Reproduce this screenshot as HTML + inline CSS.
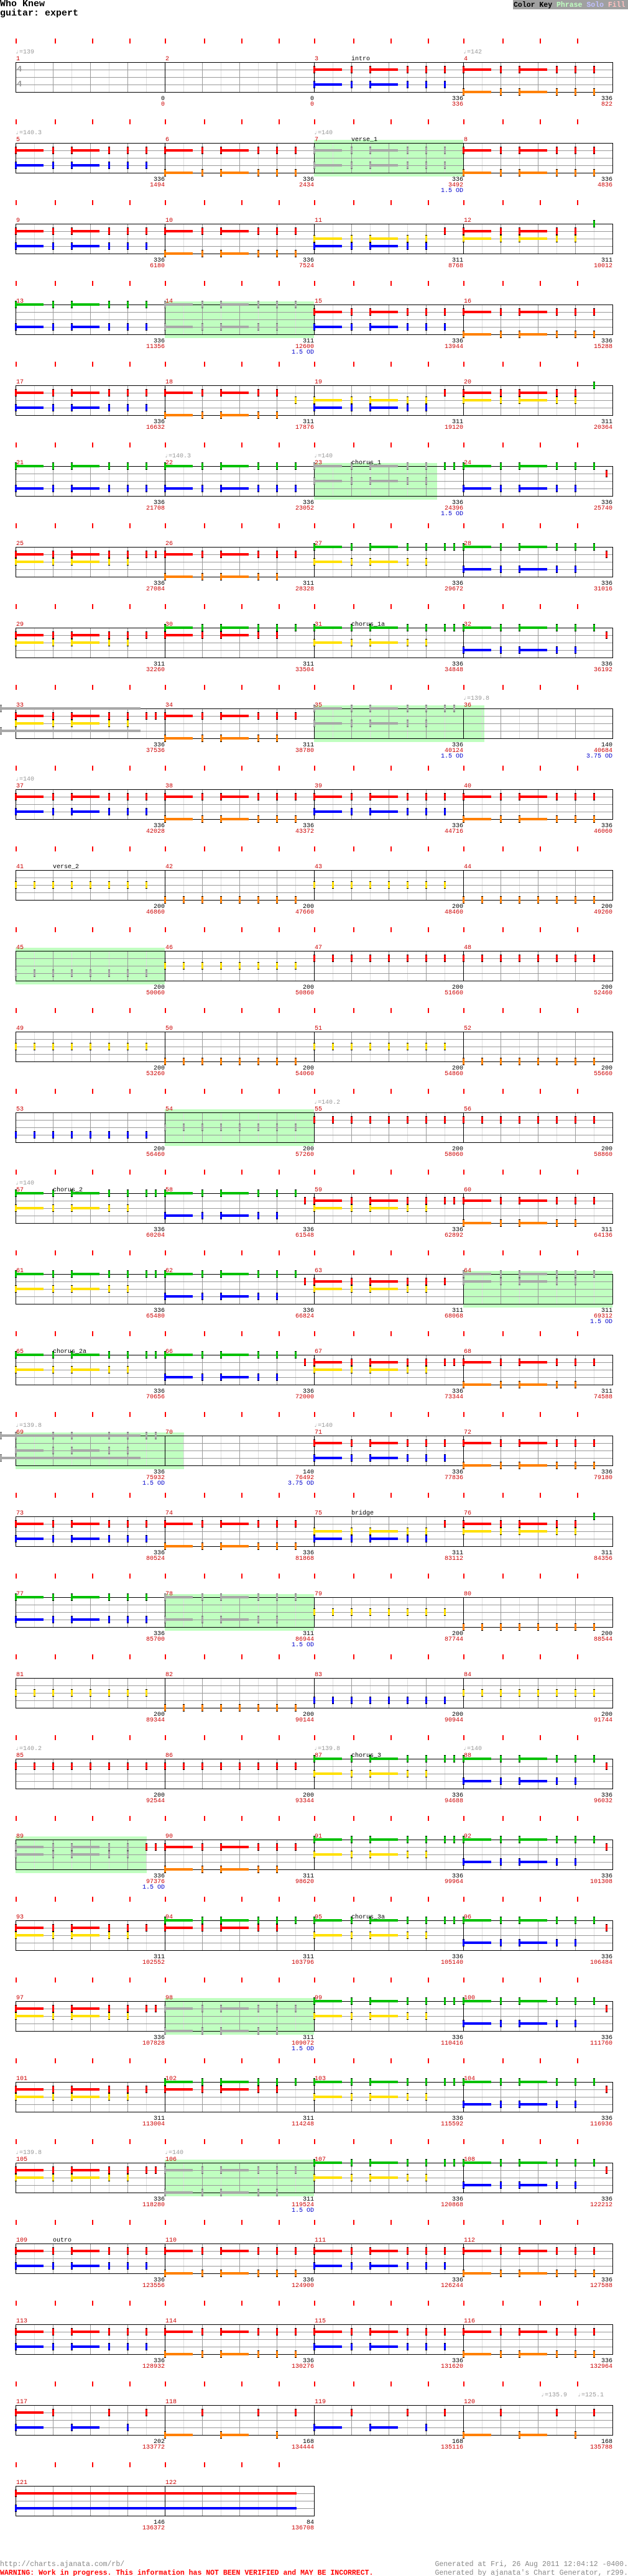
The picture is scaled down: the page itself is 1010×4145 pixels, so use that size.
<!DOCTYPE html>
<html><head><meta charset="utf-8"><style>
html,body{margin:0;padding:0;background:#fff}
svg{display:block}
text{font-family:"Liberation Mono","DejaVu Sans Mono",monospace;font-size:10px}
.n{fill:#cc0000}
.k{fill:#000;text-anchor:end}
.r{fill:#cc0000;text-anchor:end}
.o{fill:#0000cc;text-anchor:end}
.t{fill:#999}
.s{fill:#000}
</style></head><body>
<svg id="s" width="1010" height="4145" viewBox="0 0 1010 4145" xmlns="http://www.w3.org/2000/svg">
<rect width="1010" height="4145" fill="#fff"/>
<g id="shapes"></g>
<text x="0" y="10" style="font-size:15px;font-weight:bold">Who Knew</text>
<text x="0" y="25" style="font-size:15px;font-weight:bold">guitar: expert</text>
<rect x="825" y="0" width="185" height="15" fill="#a0a0a0"/>
<text x="826" y="11" style="font-size:11.5px;font-weight:bold"><tspan fill="#000">Color Key</tspan> <tspan fill="#c0ffc0">Phrase</tspan> <tspan fill="#c0c0ff">Solo</tspan> <tspan fill="#ffc0c0">Fill</tspan></text>
<text x="27" y="115" style="font-size:14px;font-weight:bold;fill:#999">4</text>
<text x="27" y="139" style="font-size:14px;font-weight:bold;fill:#999">4</text>

<g transform="translate(25,100)"><text class="t" x="0" y="-14">♩=139</text><text class="n" x="1" y="-3">1</text><text class="k" x="240" y="61">0</text><text class="r" x="240" y="70">0</text></g>
<g transform="translate(265,100)"><text class="n" x="1" y="-3">2</text><text class="k" x="240" y="61">0</text><text class="r" x="240" y="70">0</text></g>
<g transform="translate(505,100)"><text class="n" x="1" y="-3">3</text><text class="s" x="60" y="-3">intro</text><text class="k" x="240" y="61">336</text><text class="r" x="240" y="70">336</text></g>
<g transform="translate(745,100)"><text class="t" x="0" y="-14">♩=142</text><text class="n" x="1" y="-3">4</text><text class="k" x="240" y="61">336</text><text class="r" x="240" y="70">822</text></g>

<g transform="translate(25,230)"><text class="t" x="0" y="-14">♩=140.3</text><text class="n" x="1" y="-3">5</text><text class="k" x="240" y="61">336</text><text class="r" x="240" y="70">1494</text></g>
<g transform="translate(265,230)"><text class="n" x="1" y="-3">6</text><text class="k" x="240" y="61">336</text><text class="r" x="240" y="70">2434</text></g>
<g transform="translate(505,230)"><text class="t" x="0" y="-14">♩=140</text><text class="n" x="1" y="-3">7</text><text class="s" x="60" y="-3">verse_1</text><text class="k" x="240" y="61">336</text><text class="r" x="240" y="70">3492</text><text class="o" x="240" y="79">1.5 OD</text></g>
<g transform="translate(745,230)"><text class="n" x="1" y="-3">8</text><text class="k" x="240" y="61">336</text><text class="r" x="240" y="70">4836</text></g>

<g transform="translate(25,360)"><text class="n" x="1" y="-3">9</text><text class="k" x="240" y="61">336</text><text class="r" x="240" y="70">6180</text></g>
<g transform="translate(265,360)"><text class="n" x="1" y="-3">10</text><text class="k" x="240" y="61">336</text><text class="r" x="240" y="70">7524</text></g>
<g transform="translate(505,360)"><text class="n" x="1" y="-3">11</text><text class="k" x="240" y="61">311</text><text class="r" x="240" y="70">8768</text></g>
<g transform="translate(745,360)"><text class="n" x="1" y="-3">12</text><text class="k" x="240" y="61">311</text><text class="r" x="240" y="70">10012</text></g>

<g transform="translate(25,490)"><text class="n" x="1" y="-3">13</text><text class="k" x="240" y="61">336</text><text class="r" x="240" y="70">11356</text></g>
<g transform="translate(265,490)"><text class="n" x="1" y="-3">14</text><text class="k" x="240" y="61">311</text><text class="r" x="240" y="70">12600</text><text class="o" x="240" y="79">1.5 OD</text></g>
<g transform="translate(505,490)"><text class="n" x="1" y="-3">15</text><text class="k" x="240" y="61">336</text><text class="r" x="240" y="70">13944</text></g>
<g transform="translate(745,490)"><text class="n" x="1" y="-3">16</text><text class="k" x="240" y="61">336</text><text class="r" x="240" y="70">15288</text></g>

<g transform="translate(25,620)"><text class="n" x="1" y="-3">17</text><text class="k" x="240" y="61">336</text><text class="r" x="240" y="70">16632</text></g>
<g transform="translate(265,620)"><text class="n" x="1" y="-3">18</text><text class="k" x="240" y="61">311</text><text class="r" x="240" y="70">17876</text></g>
<g transform="translate(505,620)"><text class="n" x="1" y="-3">19</text><text class="k" x="240" y="61">311</text><text class="r" x="240" y="70">19120</text></g>
<g transform="translate(745,620)"><text class="n" x="1" y="-3">20</text><text class="k" x="240" y="61">311</text><text class="r" x="240" y="70">20364</text></g>

<g transform="translate(25,750)"><text class="n" x="1" y="-3">21</text><text class="k" x="240" y="61">336</text><text class="r" x="240" y="70">21708</text></g>
<g transform="translate(265,750)"><text class="t" x="0" y="-14">♩=140.3</text><text class="n" x="1" y="-3">22</text><text class="k" x="240" y="61">336</text><text class="r" x="240" y="70">23052</text></g>
<g transform="translate(505,750)"><text class="t" x="0" y="-14">♩=140</text><text class="n" x="1" y="-3">23</text><text class="s" x="60" y="-3">chorus_1</text><text class="k" x="240" y="61">336</text><text class="r" x="240" y="70">24396</text><text class="o" x="240" y="79">1.5 OD</text></g>
<g transform="translate(745,750)"><text class="n" x="1" y="-3">24</text><text class="k" x="240" y="61">336</text><text class="r" x="240" y="70">25740</text></g>

<g transform="translate(25,880)"><text class="n" x="1" y="-3">25</text><text class="k" x="240" y="61">336</text><text class="r" x="240" y="70">27084</text></g>
<g transform="translate(265,880)"><text class="n" x="1" y="-3">26</text><text class="k" x="240" y="61">311</text><text class="r" x="240" y="70">28328</text></g>
<g transform="translate(505,880)"><text class="n" x="1" y="-3">27</text><text class="k" x="240" y="61">336</text><text class="r" x="240" y="70">29672</text></g>
<g transform="translate(745,880)"><text class="n" x="1" y="-3">28</text><text class="k" x="240" y="61">336</text><text class="r" x="240" y="70">31016</text></g>

<g transform="translate(25,1010)"><text class="n" x="1" y="-3">29</text><text class="k" x="240" y="61">311</text><text class="r" x="240" y="70">32260</text></g>
<g transform="translate(265,1010)"><text class="n" x="1" y="-3">30</text><text class="k" x="240" y="61">311</text><text class="r" x="240" y="70">33504</text></g>
<g transform="translate(505,1010)"><text class="n" x="1" y="-3">31</text><text class="s" x="60" y="-3">chorus_1a</text><text class="k" x="240" y="61">336</text><text class="r" x="240" y="70">34848</text></g>
<g transform="translate(745,1010)"><text class="n" x="1" y="-3">32</text><text class="k" x="240" y="61">336</text><text class="r" x="240" y="70">36192</text></g>

<g transform="translate(25,1140)"><text class="n" x="1" y="-3">33</text><text class="k" x="240" y="61">336</text><text class="r" x="240" y="70">37536</text></g>
<g transform="translate(265,1140)"><text class="n" x="1" y="-3">34</text><text class="k" x="240" y="61">311</text><text class="r" x="240" y="70">38780</text></g>
<g transform="translate(505,1140)"><text class="n" x="1" y="-3">35</text><text class="k" x="240" y="61">336</text><text class="r" x="240" y="70">40124</text><text class="o" x="240" y="79">1.5 OD</text></g>
<g transform="translate(745,1140)"><text class="t" x="0" y="-14">♩=139.8</text><text class="n" x="1" y="-3">36</text><text class="k" x="240" y="61">140</text><text class="r" x="240" y="70">40684</text><text class="o" x="240" y="79">3.75 OD</text></g>

<g transform="translate(25,1270)"><text class="t" x="0" y="-14">♩=140</text><text class="n" x="1" y="-3">37</text><text class="k" x="240" y="61">336</text><text class="r" x="240" y="70">42028</text></g>
<g transform="translate(265,1270)"><text class="n" x="1" y="-3">38</text><text class="k" x="240" y="61">336</text><text class="r" x="240" y="70">43372</text></g>
<g transform="translate(505,1270)"><text class="n" x="1" y="-3">39</text><text class="k" x="240" y="61">336</text><text class="r" x="240" y="70">44716</text></g>
<g transform="translate(745,1270)"><text class="n" x="1" y="-3">40</text><text class="k" x="240" y="61">336</text><text class="r" x="240" y="70">46060</text></g>

<g transform="translate(25,1400)"><text class="n" x="1" y="-3">41</text><text class="s" x="60" y="-3">verse_2</text><text class="k" x="240" y="61">200</text><text class="r" x="240" y="70">46860</text></g>
<g transform="translate(265,1400)"><text class="n" x="1" y="-3">42</text><text class="k" x="240" y="61">200</text><text class="r" x="240" y="70">47660</text></g>
<g transform="translate(505,1400)"><text class="n" x="1" y="-3">43</text><text class="k" x="240" y="61">200</text><text class="r" x="240" y="70">48460</text></g>
<g transform="translate(745,1400)"><text class="n" x="1" y="-3">44</text><text class="k" x="240" y="61">200</text><text class="r" x="240" y="70">49260</text></g>

<g transform="translate(25,1530)"><text class="n" x="1" y="-3">45</text><text class="k" x="240" y="61">200</text><text class="r" x="240" y="70">50060</text></g>
<g transform="translate(265,1530)"><text class="n" x="1" y="-3">46</text><text class="k" x="240" y="61">200</text><text class="r" x="240" y="70">50860</text></g>
<g transform="translate(505,1530)"><text class="n" x="1" y="-3">47</text><text class="k" x="240" y="61">200</text><text class="r" x="240" y="70">51660</text></g>
<g transform="translate(745,1530)"><text class="n" x="1" y="-3">48</text><text class="k" x="240" y="61">200</text><text class="r" x="240" y="70">52460</text></g>

<g transform="translate(25,1660)"><text class="n" x="1" y="-3">49</text><text class="k" x="240" y="61">200</text><text class="r" x="240" y="70">53260</text></g>
<g transform="translate(265,1660)"><text class="n" x="1" y="-3">50</text><text class="k" x="240" y="61">200</text><text class="r" x="240" y="70">54060</text></g>
<g transform="translate(505,1660)"><text class="n" x="1" y="-3">51</text><text class="k" x="240" y="61">200</text><text class="r" x="240" y="70">54860</text></g>
<g transform="translate(745,1660)"><text class="n" x="1" y="-3">52</text><text class="k" x="240" y="61">200</text><text class="r" x="240" y="70">55660</text></g>

<g transform="translate(25,1790)"><text class="n" x="1" y="-3">53</text><text class="k" x="240" y="61">200</text><text class="r" x="240" y="70">56460</text></g>
<g transform="translate(265,1790)"><text class="n" x="1" y="-3">54</text><text class="k" x="240" y="61">200</text><text class="r" x="240" y="70">57260</text></g>
<g transform="translate(505,1790)"><text class="t" x="0" y="-14">♩=140.2</text><text class="n" x="1" y="-3">55</text><text class="k" x="240" y="61">200</text><text class="r" x="240" y="70">58060</text></g>
<g transform="translate(745,1790)"><text class="n" x="1" y="-3">56</text><text class="k" x="240" y="61">200</text><text class="r" x="240" y="70">58860</text></g>

<g transform="translate(25,1920)"><text class="t" x="0" y="-14">♩=140</text><text class="n" x="1" y="-3">57</text><text class="s" x="60" y="-3">chorus_2</text><text class="k" x="240" y="61">336</text><text class="r" x="240" y="70">60204</text></g>
<g transform="translate(265,1920)"><text class="n" x="1" y="-3">58</text><text class="k" x="240" y="61">336</text><text class="r" x="240" y="70">61548</text></g>
<g transform="translate(505,1920)"><text class="n" x="1" y="-3">59</text><text class="k" x="240" y="61">336</text><text class="r" x="240" y="70">62892</text></g>
<g transform="translate(745,1920)"><text class="n" x="1" y="-3">60</text><text class="k" x="240" y="61">311</text><text class="r" x="240" y="70">64136</text></g>

<g transform="translate(25,2050)"><text class="n" x="1" y="-3">61</text><text class="k" x="240" y="61">336</text><text class="r" x="240" y="70">65480</text></g>
<g transform="translate(265,2050)"><text class="n" x="1" y="-3">62</text><text class="k" x="240" y="61">336</text><text class="r" x="240" y="70">66824</text></g>
<g transform="translate(505,2050)"><text class="n" x="1" y="-3">63</text><text class="k" x="240" y="61">311</text><text class="r" x="240" y="70">68068</text></g>
<g transform="translate(745,2050)"><text class="n" x="1" y="-3">64</text><text class="k" x="240" y="61">311</text><text class="r" x="240" y="70">69312</text><text class="o" x="240" y="79">1.5 OD</text></g>

<g transform="translate(25,2180)"><text class="n" x="1" y="-3">65</text><text class="s" x="60" y="-3">chorus_2a</text><text class="k" x="240" y="61">336</text><text class="r" x="240" y="70">70656</text></g>
<g transform="translate(265,2180)"><text class="n" x="1" y="-3">66</text><text class="k" x="240" y="61">336</text><text class="r" x="240" y="70">72000</text></g>
<g transform="translate(505,2180)"><text class="n" x="1" y="-3">67</text><text class="k" x="240" y="61">336</text><text class="r" x="240" y="70">73344</text></g>
<g transform="translate(745,2180)"><text class="n" x="1" y="-3">68</text><text class="k" x="240" y="61">311</text><text class="r" x="240" y="70">74588</text></g>

<g transform="translate(25,2310)"><text class="t" x="0" y="-14">♩=139.8</text><text class="n" x="1" y="-3">69</text><text class="k" x="240" y="61">336</text><text class="r" x="240" y="70">75932</text><text class="o" x="240" y="79">1.5 OD</text></g>
<g transform="translate(265,2310)"><text class="n" x="1" y="-3">70</text><text class="k" x="240" y="61">140</text><text class="r" x="240" y="70">76492</text><text class="o" x="240" y="79">3.75 OD</text></g>
<g transform="translate(505,2310)"><text class="t" x="0" y="-14">♩=140</text><text class="n" x="1" y="-3">71</text><text class="k" x="240" y="61">336</text><text class="r" x="240" y="70">77836</text></g>
<g transform="translate(745,2310)"><text class="n" x="1" y="-3">72</text><text class="k" x="240" y="61">336</text><text class="r" x="240" y="70">79180</text></g>

<g transform="translate(25,2440)"><text class="n" x="1" y="-3">73</text><text class="k" x="240" y="61">336</text><text class="r" x="240" y="70">80524</text></g>
<g transform="translate(265,2440)"><text class="n" x="1" y="-3">74</text><text class="k" x="240" y="61">336</text><text class="r" x="240" y="70">81868</text></g>
<g transform="translate(505,2440)"><text class="n" x="1" y="-3">75</text><text class="s" x="60" y="-3">bridge</text><text class="k" x="240" y="61">311</text><text class="r" x="240" y="70">83112</text></g>
<g transform="translate(745,2440)"><text class="n" x="1" y="-3">76</text><text class="k" x="240" y="61">311</text><text class="r" x="240" y="70">84356</text></g>

<g transform="translate(25,2570)"><text class="n" x="1" y="-3">77</text><text class="k" x="240" y="61">336</text><text class="r" x="240" y="70">85700</text></g>
<g transform="translate(265,2570)"><text class="n" x="1" y="-3">78</text><text class="k" x="240" y="61">311</text><text class="r" x="240" y="70">86944</text><text class="o" x="240" y="79">1.5 OD</text></g>
<g transform="translate(505,2570)"><text class="n" x="1" y="-3">79</text><text class="k" x="240" y="61">200</text><text class="r" x="240" y="70">87744</text></g>
<g transform="translate(745,2570)"><text class="n" x="1" y="-3">80</text><text class="k" x="240" y="61">200</text><text class="r" x="240" y="70">88544</text></g>

<g transform="translate(25,2700)"><text class="n" x="1" y="-3">81</text><text class="k" x="240" y="61">200</text><text class="r" x="240" y="70">89344</text></g>
<g transform="translate(265,2700)"><text class="n" x="1" y="-3">82</text><text class="k" x="240" y="61">200</text><text class="r" x="240" y="70">90144</text></g>
<g transform="translate(505,2700)"><text class="n" x="1" y="-3">83</text><text class="k" x="240" y="61">200</text><text class="r" x="240" y="70">90944</text></g>
<g transform="translate(745,2700)"><text class="n" x="1" y="-3">84</text><text class="k" x="240" y="61">200</text><text class="r" x="240" y="70">91744</text></g>

<g transform="translate(25,2830)"><text class="t" x="0" y="-14">♩=140.2</text><text class="n" x="1" y="-3">85</text><text class="k" x="240" y="61">200</text><text class="r" x="240" y="70">92544</text></g>
<g transform="translate(265,2830)"><text class="n" x="1" y="-3">86</text><text class="k" x="240" y="61">200</text><text class="r" x="240" y="70">93344</text></g>
<g transform="translate(505,2830)"><text class="t" x="0" y="-14">♩=139.8</text><text class="n" x="1" y="-3">87</text><text class="s" x="60" y="-3">chorus_3</text><text class="k" x="240" y="61">336</text><text class="r" x="240" y="70">94688</text></g>
<g transform="translate(745,2830)"><text class="t" x="0" y="-14">♩=140</text><text class="n" x="1" y="-3">88</text><text class="k" x="240" y="61">336</text><text class="r" x="240" y="70">96032</text></g>

<g transform="translate(25,2960)"><text class="n" x="1" y="-3">89</text><text class="k" x="240" y="61">336</text><text class="r" x="240" y="70">97376</text><text class="o" x="240" y="79">1.5 OD</text></g>
<g transform="translate(265,2960)"><text class="n" x="1" y="-3">90</text><text class="k" x="240" y="61">311</text><text class="r" x="240" y="70">98620</text></g>
<g transform="translate(505,2960)"><text class="n" x="1" y="-3">91</text><text class="k" x="240" y="61">336</text><text class="r" x="240" y="70">99964</text></g>
<g transform="translate(745,2960)"><text class="n" x="1" y="-3">92</text><text class="k" x="240" y="61">336</text><text class="r" x="240" y="70">101308</text></g>

<g transform="translate(25,3090)"><text class="n" x="1" y="-3">93</text><text class="k" x="240" y="61">311</text><text class="r" x="240" y="70">102552</text></g>
<g transform="translate(265,3090)"><text class="n" x="1" y="-3">94</text><text class="k" x="240" y="61">311</text><text class="r" x="240" y="70">103796</text></g>
<g transform="translate(505,3090)"><text class="n" x="1" y="-3">95</text><text class="s" x="60" y="-3">chorus_3a</text><text class="k" x="240" y="61">336</text><text class="r" x="240" y="70">105140</text></g>
<g transform="translate(745,3090)"><text class="n" x="1" y="-3">96</text><text class="k" x="240" y="61">336</text><text class="r" x="240" y="70">106484</text></g>

<g transform="translate(25,3220)"><text class="n" x="1" y="-3">97</text><text class="k" x="240" y="61">336</text><text class="r" x="240" y="70">107828</text></g>
<g transform="translate(265,3220)"><text class="n" x="1" y="-3">98</text><text class="k" x="240" y="61">311</text><text class="r" x="240" y="70">109072</text><text class="o" x="240" y="79">1.5 OD</text></g>
<g transform="translate(505,3220)"><text class="n" x="1" y="-3">99</text><text class="k" x="240" y="61">336</text><text class="r" x="240" y="70">110416</text></g>
<g transform="translate(745,3220)"><text class="n" x="1" y="-3">100</text><text class="k" x="240" y="61">336</text><text class="r" x="240" y="70">111760</text></g>

<g transform="translate(25,3350)"><text class="n" x="1" y="-3">101</text><text class="k" x="240" y="61">311</text><text class="r" x="240" y="70">113004</text></g>
<g transform="translate(265,3350)"><text class="n" x="1" y="-3">102</text><text class="k" x="240" y="61">311</text><text class="r" x="240" y="70">114248</text></g>
<g transform="translate(505,3350)"><text class="n" x="1" y="-3">103</text><text class="k" x="240" y="61">336</text><text class="r" x="240" y="70">115592</text></g>
<g transform="translate(745,3350)"><text class="n" x="1" y="-3">104</text><text class="k" x="240" y="61">336</text><text class="r" x="240" y="70">116936</text></g>

<g transform="translate(25,3480)"><text class="t" x="0" y="-14">♩=139.8</text><text class="n" x="1" y="-3">105</text><text class="k" x="240" y="61">336</text><text class="r" x="240" y="70">118280</text></g>
<g transform="translate(265,3480)"><text class="t" x="0" y="-14">♩=140</text><text class="n" x="1" y="-3">106</text><text class="k" x="240" y="61">311</text><text class="r" x="240" y="70">119524</text><text class="o" x="240" y="79">1.5 OD</text></g>
<g transform="translate(505,3480)"><text class="n" x="1" y="-3">107</text><text class="k" x="240" y="61">336</text><text class="r" x="240" y="70">120868</text></g>
<g transform="translate(745,3480)"><text class="n" x="1" y="-3">108</text><text class="k" x="240" y="61">336</text><text class="r" x="240" y="70">122212</text></g>

<g transform="translate(25,3610)"><text class="n" x="1" y="-3">109</text><text class="s" x="60" y="-3">outro</text><text class="k" x="240" y="61">336</text><text class="r" x="240" y="70">123556</text></g>
<g transform="translate(265,3610)"><text class="n" x="1" y="-3">110</text><text class="k" x="240" y="61">336</text><text class="r" x="240" y="70">124900</text></g>
<g transform="translate(505,3610)"><text class="n" x="1" y="-3">111</text><text class="k" x="240" y="61">336</text><text class="r" x="240" y="70">126244</text></g>
<g transform="translate(745,3610)"><text class="n" x="1" y="-3">112</text><text class="k" x="240" y="61">336</text><text class="r" x="240" y="70">127588</text></g>

<g transform="translate(25,3740)"><text class="n" x="1" y="-3">113</text><text class="k" x="240" y="61">336</text><text class="r" x="240" y="70">128932</text></g>
<g transform="translate(265,3740)"><text class="n" x="1" y="-3">114</text><text class="k" x="240" y="61">336</text><text class="r" x="240" y="70">130276</text></g>
<g transform="translate(505,3740)"><text class="n" x="1" y="-3">115</text><text class="k" x="240" y="61">336</text><text class="r" x="240" y="70">131620</text></g>
<g transform="translate(745,3740)"><text class="n" x="1" y="-3">116</text><text class="k" x="240" y="61">336</text><text class="r" x="240" y="70">132964</text></g>

<g transform="translate(25,3870)"><text class="n" x="1" y="-3">117</text><text class="k" x="240" y="61">202</text><text class="r" x="240" y="70">133772</text></g>
<g transform="translate(265,3870)"><text class="n" x="1" y="-3">118</text><text class="k" x="240" y="61">168</text><text class="r" x="240" y="70">134444</text></g>
<g transform="translate(505,3870)"><text class="n" x="1" y="-3">119</text><text class="k" x="240" y="61">168</text><text class="r" x="240" y="70">135116</text></g>
<g transform="translate(745,3870)"><text class="t" x="125" y="-14">♩=135.9</text><text class="t" x="184" y="-14">♩=125.1</text><text class="n" x="1" y="-3">120</text><text class="k" x="240" y="61">168</text><text class="r" x="240" y="70">135788</text></g>

<g transform="translate(25,4000)"><text class="n" x="1" y="-3">121</text><text class="k" x="240" y="61">146</text><text class="r" x="240" y="70">136372</text></g>
<g transform="translate(265,4000)"><text class="n" x="1" y="-3">122</text><text class="k" x="240" y="61">84</text><text class="r" x="240" y="70">136708</text></g>

<text x="0" y="4129" style="font-size:11.5px;fill:#888">http://charts.ajanata.com/rb/</text>
<text x="0" y="4143" style="font-size:11.5px;fill:#f00;font-weight:bold">WARNING: Work in progress. This information has NOT BEEN VERIFIED and MAY BE INCORRECT.</text>
<text x="1010" y="4129" style="font-size:11.5px;fill:#888;text-anchor:end">Generated at Fri, 26 Aug 2011 12:04:12 -0400.</text>
<text x="1010" y="4143" style="font-size:11.5px;fill:#888;text-anchor:end">Generated by ajanata's Chart Generator, r299.</text>
</svg>
<script>
(function(){
var S={
1:"",2:"",3:"R:A B:A",4:"R:A O:A",
5:"R:A B:A",6:"R:A O:A",7:"gR:A gB:A",8:"R:A O:A",
9:"R:A B:A",10:"R:A O:A",11:"Y:F B:F R:210",12:"R:F Y:F G:210",
13:"G:A B:A",14:"gG:A gB:F",15:"R:A B:A",16:"R:A O:A",
17:"R:A B:A",18:"R:F O:F Y:210",19:"Y:F B:F R:210",20:"R:F Y:F G:210",
21:"G:A B:A",22:"G:A B:A",23:"gG:F G:210,225 gY:F",24:"G:A B:F R:230",
25:"R:S Y:F",26:"R:A O:F",27:"G:S Y:F",28:"G:A B:F R:230",
29:"R:A Y:F",30:"G:A R:F",31:"G:S Y:F",32:"G:A B:F R:230",
33:"R:S Y:F",34:"R:A O:F",35:"gG:S gY:F",36:"gG:L gB:L",
37:"R:A B:A",38:"R:A O:A",39:"R:A B:A",40:"R:A O:A",
41:"Y:E",42:"O:E",43:"Y:E",44:"O:E",
45:"gB:E",46:"Y:E",47:"R:E",48:"R:E",
49:"Y:E",50:"O:E",51:"Y:E",52:"O:E",
53:"B:E",54:"gY:E",55:"R:E",56:"R:E",
57:"G:S Y:F",58:"G:A B:F R:225",59:"R:S Y:F",60:"R:A O:F",
61:"G:S Y:F",62:"G:A B:F R:225",63:"R:A Y:F",64:"gG:A gR:F",
65:"G:S Y:F",66:"G:A B:F R:225",67:"R:S Y:F",68:"R:A O:F",
69:"gG:S gY:F",70:"gG:L gB:L",71:"R:A B:A",72:"R:A O:A",
73:"R:A B:A",74:"R:A O:A",75:"Y:F B:F R:210",76:"R:F Y:F G:210",
77:"G:A B:A",78:"gG:A gB:F",79:"Y:E",80:"O:E",
81:"Y:E",82:"O:E",83:"B:E",84:"Y:E",
85:"R:E",86:"R:E",87:"G:S Y:F",88:"G:A B:F R:230",
89:"gR:F R:210,225 gY:F",90:"R:A O:F",91:"G:S Y:F",92:"G:A B:F R:230",
93:"R:A Y:F",94:"G:A R:F",95:"G:S Y:F",96:"G:A B:F R:230",
97:"R:S Y:F",98:"gR:A gO:F",99:"G:S Y:F",100:"G:A B:F R:230",
101:"R:A Y:F",102:"G:A R:F",103:"G:S Y:F",104:"G:A B:F R:230",
105:"R:S Y:F",106:"gR:A gO:F",107:"G:S Y:F",108:"G:A B:F R:230",
109:"R:A B:A",110:"R:A O:A",111:"R:A B:A",112:"R:A O:A",
113:"R:A B:A",114:"R:A O:A",115:"R:A B:A",116:"R:A O:A",
117:"R:0s,60,150,210 B:0s,90s,180",118:"R:60,150,210 O:0s,90s,180",
119:"R:60,150,210 B:0s,90s,180",120:"R:60,150,210 O:0s,90s,180",
121:"R:0X B:0X",122:""
};
var PH={7:240,14:240,23:198,35:240,36:34,45:240,54:240,64:240,69:240,70:31,78:240,89:211,98:240,106:240};
var LN={G:0,R:12,Y:24,B:36,O:48};
var C={G:'#00c000',R:'#ff0000',Y:'#ffe000',B:'#0000ff',O:'#ff8000'};
var P={A:'0s 60 90s 150 180 210',F:'0s 60 90s 150 180',S:'0s 60 90s 150 180 210 225',E:'0 30 60 90 120 150 180 210'};
var bg=[],grid=[],notes=[];
function R(a,x,y,w,h,f){a.push('<rect x="'+x+'" y="'+y+'" width="'+w+'" height="'+h+'" fill="'+f+'"/>');}
for(var m=1;m<=122;m++){
  var r=Math.floor((m-1)/4),c=(m-1)%4,X=25+240*c,T=100+130*r;
  // ticks
  [0,63,123,183].forEach(function(o){R(grid,X+o,T-38,2,8,'#f00');});
  if(PH[m])R(bg,X,T-5,PH[m],59,'#c0ffc0');
  [30,90,150,210].forEach(function(o){R(grid,X+o,T,1,48,'#dddddd');});
  [60,120,180].forEach(function(o){R(grid,X+o,T,1,48,'#999999');});
  [12,24,36].forEach(function(o){R(grid,X,T+o,240,1,'#999999');});
  R(grid,X,T,240,1,'#000');R(grid,X,T+48,240,1,'#000');
  R(grid,X,T,1,49,'#000');
  if(c==3||m==122)R(grid,X+240,T,1,49,'#000');
  var spec=S[m];if(!spec)continue;
  spec.split(' ').forEach(function(tok){
    var gray=tok[0]=='g';if(gray)tok=tok.slice(1);
    var lane=tok[0],rest=tok.slice(2);
    var evs=P[rest]?P[rest].split(' '):rest.split(',');
    var col=gray?'#a8a8a8':C[lane],y=T+LN[lane];
    evs.forEach(function(e){
      var p=parseInt(e,10),len=0;
      if(/s$/.test(e))len=45;else if(/L$/.test(e))len=226;else if(/X$/.test(e))len=452;
      if(len)R(notes,X+p,y-2,len,4,col);
      R(notes,X+p-1,y-6,3,12,gray?'#666':'#000');
      R(notes,X+p-1,y-5,3,10,col);
    });
  });
}
document.getElementById('shapes').innerHTML=bg.join('')+grid.join('')+notes.join('');
})();
</script>
</body></html>
